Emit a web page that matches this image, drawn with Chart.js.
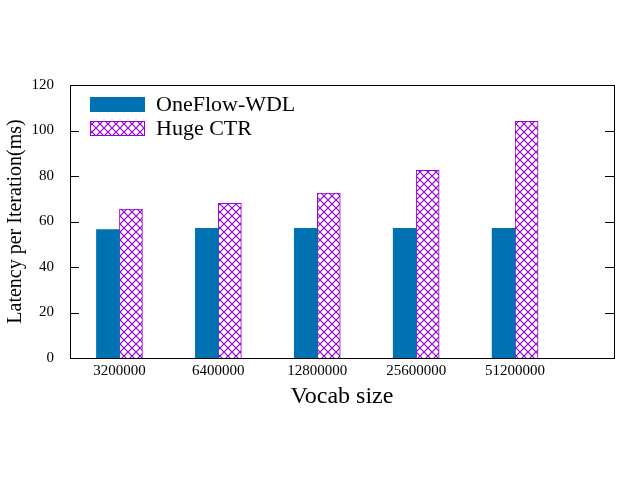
<!DOCTYPE html>
<html><head><script src="https://cdn.jsdelivr.net/npm/chart.js"></script>
<style>body{margin:0;background:#fff}#w{width:640px;height:480px}</style></head>
<body><div id="w"><canvas id="c"></canvas></div>
<script>
const categories=["3200000","6400000","12800000","25600000","51200000"];
const oneflow=[56.5,57,57,57,57];
const hugectr=[65.5,68,72.5,82.5,104];
const yTicks=[0,20,40,60,80,100,120];

function hatch(){const p=document.createElement('canvas');p.width=8;p.height=8;const g=p.getContext('2d');
g.fillStyle='#fff';g.fillRect(0,0,8,8);g.strokeStyle='#9400d3';g.lineWidth=1.2;
g.beginPath();g.moveTo(0,0);g.lineTo(8,8);g.moveTo(8,0);g.lineTo(0,8);g.stroke();
return g.createPattern(p,'repeat');}
const pat=hatch();
const F="'Liberation Serif','DejaVu Serif',serif";

const legendPlugin={id:'lg',afterDraw(ch){const c=ch.ctx;const items=ch.data.datasets;
c.save();items.forEach((d,i)=>{const y=97+i*24;c.fillStyle=d.backgroundColor;c.fillRect(90,y,55,15);
if(d.borderWidth){c.strokeStyle=d.borderColor;c.lineWidth=1;c.strokeRect(90.5,y+0.5,54,14);}
c.fillStyle='#000';c.font="22px "+F;c.textBaseline='middle';c.fillText(d.label,156,y+8);});c.restore();}};

new Chart(document.getElementById('c'),{type:'bar',
data:{datasets:[
{label:'OneFlow-WDL',data:oneflow.map((v,i)=>({x:i,y:v})),backgroundColor:'#0072b2',borderWidth:0,barThickness:23},
{label:'Huge CTR',data:hugectr.map((v,i)=>({x:i,y:v})),backgroundColor:pat,borderColor:'#9400d3',borderWidth:1,barThickness:23}]},
options:{responsive:true,maintainAspectRatio:false,animation:false,
layout:{padding:{left:0,right:26,top:85,bottom:65}},
plugins:{legend:{display:false},tooltip:{enabled:false}},
scales:{
x:{type:'linear',offset:false,min:-0.5,max:5,afterFit(s){s.height=57;},
afterBuildTicks(s){s.ticks=categories.map((_,i)=>({value:i}));},
ticks:{autoSkip:false,maxRotation:0,color:'#000',font:{family:F,size:15},padding:4,callback:(v)=>categories[v]},
grid:{display:false,drawTicks:false},border:{color:'#000'},
title:{display:true,text:'Vocab size',color:'#000',font:{family:F,size:24},padding:{top:0}}},
y:{min:0,max:120,afterFit(s){s.width=70;},
afterBuildTicks(s){s.ticks=yTicks.map(v=>({value:v}));},
ticks:{color:'#000',font:{family:F,size:15},padding:8},
grid:{display:false},border:{color:'#000'},
title:{display:true,text:'Latency per Iteration(ms)',color:'#000',font:{family:F,size:20},padding:{bottom:2}}}}},
plugins:[legendPlugin,{id:'frame',afterDraw(ch){const a=ch.chartArea,c=ch.ctx;c.save();c.strokeStyle='#000';c.lineWidth=1;
c.strokeRect(a.left+0.5,a.top+0.5,a.right-a.left,a.bottom-a.top);
c.beginPath();ch.scales.y.ticks.forEach(t=>{const y=Math.round(ch.scales.y.getPixelForValue(t.value))+0.5;c.moveTo(a.left,y);c.lineTo(a.left+9,y);c.moveTo(a.right,y);c.lineTo(a.right-9,y);});c.stroke();c.restore();}}]});
</script></body></html>
